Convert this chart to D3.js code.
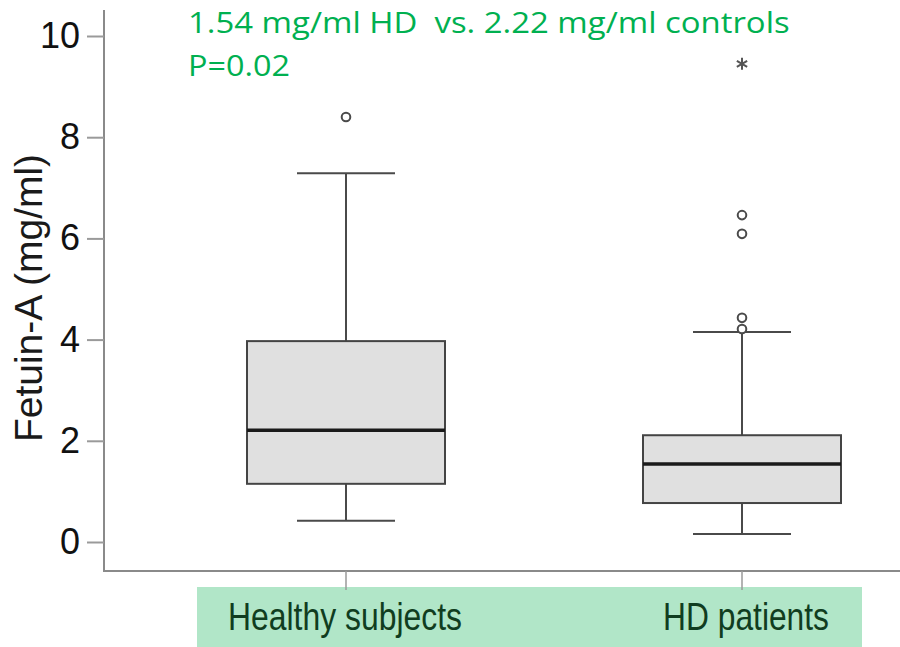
<!DOCTYPE html>
<html>
<head>
<meta charset="utf-8">
<script src="https://cdnjs.cloudflare.com/ajax/libs/d3/7.8.5/d3.min.js"></script>
<style>
  body { margin: 0; background: #fff; }
  svg { display: block; }
</style>
</head>
<body>
<div id="chart"></div>
<script>

// box plot data (mg/ml)
var groups = ["Healthy subjects", "HD patients"];
var whiskerLow = [0.42, 0.16];
var q1 = [1.15, 0.77];
var medians = [2.21, 1.54];
var q3 = [3.97, 2.11];
var whiskerHigh = [7.29, 4.15];

// outliers (circles) and extremes (asterisk)
var outlierGroup = ["Healthy subjects", "HD patients", "HD patients", "HD patients", "HD patients"];
var outlierValue = [8.40, 4.21, 4.43, 6.09, 6.46];
var extremeGroup = ["HD patients"];
var extremeValue = [9.45];

var yTicks = [0, 2, 4, 6, 8, 10];
var titleLines = ["1.54 mg/ml HD  vs. 2.22 mg/ml controls", "P=0.02"];

var width = 900, height = 647;

var svg = d3.select("#chart")
  .append("svg")
  .attr("width", width)
  .attr("height", height);

// scales
var y = d3.scaleLinear().domain([0, 10]).range([542, 36]);
var x = d3.scalePoint().domain(groups).range([346, 742]);
var boxWidth = 198, capWidth = 98;

// green band behind x labels
svg.append("rect")
  .attr("x", 197)
  .attr("y", 587)
  .attr("width", 665)
  .attr("height", 60)
  .style("fill", "#b1e6c8");

// axis lines
svg.append("line")
  .attr("x1", 104).attr("x2", 104)
  .attr("y1", 10).attr("y2", 571)
  .style("stroke", "#8a8a8a").style("stroke-width", 2);
svg.append("line")
  .attr("x1", 103).attr("x2", 900)
  .attr("y1", 571).attr("y2", 571)
  .style("stroke", "#8a8a8a").style("stroke-width", 2);

// y axis
var yAxis = d3.axisLeft(y).tickValues(yTicks).tickSize(17).tickPadding(7).tickFormat(d3.format("d"));
var gy = svg.append("g")
  .attr("transform", "translate(104,0)")
  .call(yAxis);
gy.select(".domain").remove();
gy.selectAll(".tick line").style("stroke", "#9a9a9a").style("stroke-width", 2);
gy.selectAll(".tick text")
  .style("font-family", "Liberation Sans, Arial, sans-serif")
  .style("font-size", "36px")
  .style("fill", "#111");

// x ticks
svg.selectAll(".xtick")
  .data(groups)
  .enter()
  .append("line")
  .attr("class", "xtick")
  .attr("x1", function(d) { return x(d); })
  .attr("x2", function(d) { return x(d); })
  .attr("y1", 571).attr("y2", 590)
  .style("stroke", "#9a9a9a").style("stroke-width", 1.5);

// y label
svg.append("text")
  .attr("transform", "translate(42,298) rotate(-90)")
  .attr("text-anchor", "middle")
  .style("font-family", "Liberation Sans, Arial, sans-serif")
  .style("font-size", "39px")
  .style("fill", "#1a1a1a")
  .text("Fetuin-A (mg/ml)");

// x labels, condensed to the width they take in the figure
var labelWidths = [234, 166];
var labelCenters = [345, 746];
svg.selectAll(".xlabel")
  .data(groups)
  .enter()
  .append("text")
  .attr("class", "xlabel")
  .attr("text-anchor", "middle")
  .style("font-family", "Liberation Sans, Arial, sans-serif")
  .style("font-size", "38px")
  .style("fill", "#103d20")
  .text(function(d) { return d; })
  .attr("transform", function(d, i) {
    var w = this.getComputedTextLength();
    return "translate(" + labelCenters[i] + ",630) scale(" + (labelWidths[i] / w) + ",1)";
  });

// boxes
var boxData = groups.map(function(g, i) {
  return {group: g, lo: whiskerLow[i], q1: q1[i], med: medians[i], q3: q3[i], hi: whiskerHigh[i]};
});

var boxes = svg.selectAll(".box")
  .data(boxData)
  .enter()
  .append("g")
  .attr("class", "box");

// whisker stems
boxes.append("line")
  .attr("x1", function(d) { return x(d.group); })
  .attr("x2", function(d) { return x(d.group); })
  .attr("y1", function(d) { return y(d.q3); })
  .attr("y2", function(d) { return y(d.hi); })
  .style("stroke", "#4a4a4a").style("stroke-width", 2);
boxes.append("line")
  .attr("x1", function(d) { return x(d.group); })
  .attr("x2", function(d) { return x(d.group); })
  .attr("y1", function(d) { return y(d.q1); })
  .attr("y2", function(d) { return y(d.lo); })
  .style("stroke", "#4a4a4a").style("stroke-width", 2);

// whisker caps
boxes.append("line")
  .attr("x1", function(d) { return x(d.group) - capWidth / 2; })
  .attr("x2", function(d) { return x(d.group) + capWidth / 2; })
  .attr("y1", function(d) { return y(d.hi); })
  .attr("y2", function(d) { return y(d.hi); })
  .style("stroke", "#4a4a4a").style("stroke-width", 2);
boxes.append("line")
  .attr("x1", function(d) { return x(d.group) - capWidth / 2; })
  .attr("x2", function(d) { return x(d.group) + capWidth / 2; })
  .attr("y1", function(d) { return y(d.lo); })
  .attr("y2", function(d) { return y(d.lo); })
  .style("stroke", "#4a4a4a").style("stroke-width", 2);

// box body
boxes.append("rect")
  .attr("x", function(d) { return x(d.group) - boxWidth / 2; })
  .attr("y", function(d) { return y(d.q3); })
  .attr("width", boxWidth)
  .attr("height", function(d) { return y(d.q1) - y(d.q3); })
  .style("fill", "#e0e0e0")
  .style("stroke", "#444")
  .style("stroke-width", 2);

// median
boxes.append("line")
  .attr("x1", function(d) { return x(d.group) - boxWidth / 2; })
  .attr("x2", function(d) { return x(d.group) + boxWidth / 2; })
  .attr("y1", function(d) { return y(d.med); })
  .attr("y2", function(d) { return y(d.med); })
  .style("stroke", "#1a1a1a").style("stroke-width", 3.5);

// outlier circles
svg.selectAll(".outlier")
  .data(outlierValue)
  .enter()
  .append("circle")
  .attr("class", "outlier")
  .attr("cx", function(d, i) { return x(outlierGroup[i]); })
  .attr("cy", function(d) { return y(d); })
  .attr("r", 4.3)
  .style("fill", "#fff")
  .style("stroke", "#4a4a4a")
  .style("stroke-width", 2);

// extreme values
svg.selectAll(".extreme")
  .data(extremeValue)
  .enter()
  .append("path")
  .attr("class", "extreme")
  .attr("d", d3.symbol().type(d3.symbolAsterisk).size(100))
  .attr("transform", function(d, i) { return "translate(" + x(extremeGroup[i]) + "," + y(d) + ")"; })
  .style("fill", "none")
  .style("stroke", "#555")
  .style("stroke-width", 2);

// green annotation
var titleWidths = [602, 102];
svg.selectAll(".title")
  .data(titleLines)
  .enter()
  .append("text")
  .attr("class", "title")
  .attr("xml:space", "preserve")
  .style("white-space", "pre")
  .style("font-family", "Open Sans, sans-serif")
  .style("font-size", "30px")
  .style("fill", "#00b050")
  .text(function(d) { return d; })
  .attr("transform", function(d, i) {
    var w = this.getComputedTextLength();
    return "translate(188," + (33 + i * 43) + ") scale(" + (titleWidths[i] / w) + ",1)";
  });

</script>
</body>
</html>
